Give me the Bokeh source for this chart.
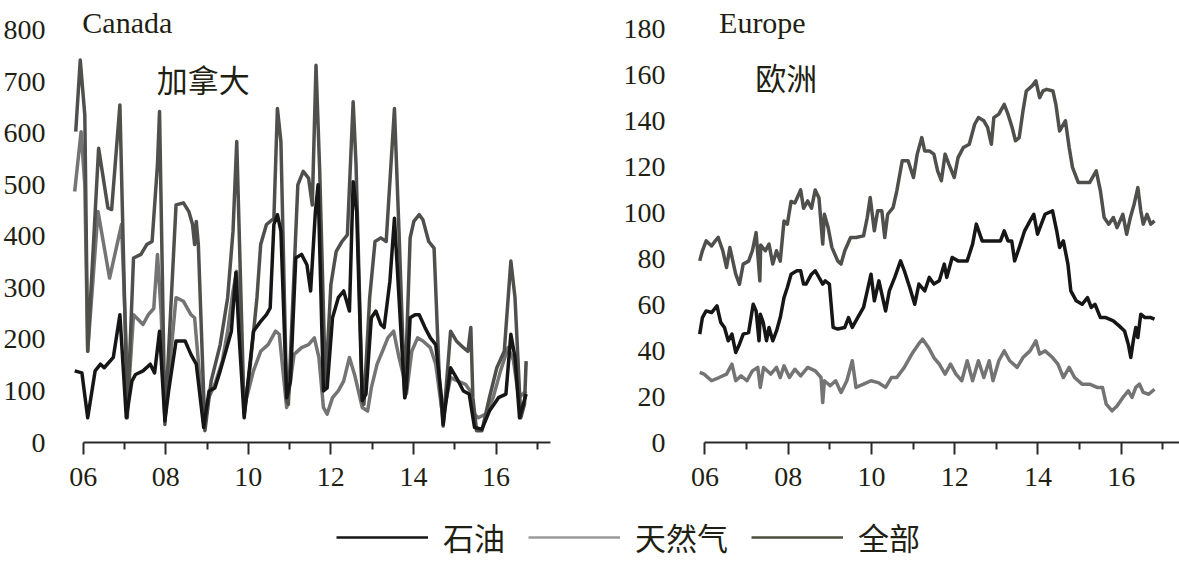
from bokeh.plotting import figure
from bokeh.layouts import column, row
from bokeh.models import FixedTicker, Label, Legend, LegendItem, Range1d
from bokeh.embed import file_html
from bokeh.resources import INLINE

# ---------------- data ----------------
year_major = [2006, 2008, 2010, 2012, 2014, 2016]
year_minor = [2007, 2009, 2011, 2013, 2015, 2017]
year_labels = ["06", "08", "10", "12", "14", "16"]

series_names = ["石油", "天然气", "全部"]

ca_ticks = [0, 100, 200, 300, 400, 500, 600, 700, 800]
eu_ticks = [0, 20, 40, 60, 80, 100, 120, 140, 160, 180]

# Canada
ca_total_x = [2005.82, 2005.93, 2006.04, 2006.11, 2006.375, 2006.60, 2006.69, 2006.89, 2007.07, 2007.22,
              2007.40, 2007.54, 2007.67, 2007.80, 2007.85, 2007.98, 2008.25, 2008.43, 2008.56, 2008.65,
              2008.70, 2008.74, 2008.79, 2008.95, 2009.10, 2009.32, 2009.50, 2009.63, 2009.72, 2009.90,
              2010.05, 2010.21, 2010.30, 2010.44, 2010.62, 2010.705, 2010.79, 2010.93, 2010.97, 2011.11,
              2011.20, 2011.33, 2011.46, 2011.55, 2011.64, 2011.73, 2011.87, 2012.00, 2012.13, 2012.27,
              2012.40, 2012.54, 2012.61, 2012.76, 2012.80, 2012.94, 2013.07, 2013.21, 2013.34, 2013.54,
              2013.65, 2013.79, 2013.92, 2014.01, 2014.14, 2014.23, 2014.37, 2014.50, 2014.63, 2014.72,
              2014.90, 2015.04, 2015.21, 2015.32, 2015.39, 2015.44, 2015.53, 2015.66, 2015.84, 2016.02,
              2016.20, 2016.36, 2016.46, 2016.60, 2016.69, 2016.73]
ca_total_y = [603, 742, 635, 177, 571, 455, 452, 655, 48, 358,
              365, 384, 390, 539, 642, 35, 461, 465, 448, 423,
              384, 429, 384, 23, 119, 190, 281, 410, 584, 55,
              152, 281, 384, 423, 435, 648, 584, 81, 74, 332,
              500, 526, 513, 461, 732, 526, 106, 306, 371, 390,
              403, 661, 539, 87, 74, 281, 390, 397, 390, 648,
              410, 87, 397, 429, 442, 432, 390, 377, 119, 32,
              216, 197, 184, 177, 223, 87, 23, 23, 87, 145,
              177, 352, 281, 48, 74, 158]

ca_oil_x = [2005.795, 2005.97, 2006.11, 2006.29, 2006.42, 2006.51, 2006.73, 2006.89, 2007.045, 2007.18,
            2007.27, 2007.45, 2007.625, 2007.73, 2007.85, 2007.98, 2008.07, 2008.25, 2008.47, 2008.61,
            2008.74, 2008.92, 2009.05, 2009.19, 2009.32, 2009.455, 2009.59, 2009.70, 2009.77, 2009.90,
            2010.125, 2010.30, 2010.44, 2010.53, 2010.62, 2010.705, 2010.79, 2010.93, 2011.02, 2011.15,
            2011.29, 2011.42, 2011.51, 2011.625, 2011.69, 2011.82, 2011.91, 2012.04, 2012.18, 2012.31,
            2012.45, 2012.54, 2012.625, 2012.76, 2012.85, 2012.98, 2013.09, 2013.21, 2013.29, 2013.43,
            2013.54, 2013.65, 2013.79, 2013.83, 2013.92, 2014.04, 2014.14, 2014.28, 2014.41, 2014.54,
            2014.68, 2014.72, 2014.77, 2014.90, 2015.04, 2015.21, 2015.35, 2015.48, 2015.66, 2015.84,
            2016.06, 2016.24, 2016.36, 2016.46, 2016.57, 2016.73]
ca_oil_y = [139, 135, 48, 139, 152, 145, 165, 248, 48, 119,
            132, 139, 152, 135, 216, 42, 100, 197, 197, 171,
            152, 29, 100, 106, 139, 177, 216, 330, 216, 48,
            216, 235, 248, 261, 423, 442, 410, 87, 119, 358,
            365, 345, 294, 448, 500, 100, 106, 242, 281, 294,
            255, 506, 448, 81, 94, 242, 255, 229, 223, 313,
            435, 281, 87, 106, 242, 248, 248, 223, 203, 190,
            87, 35, 68, 145, 126, 100, 94, 29, 26, 61,
            87, 94, 210, 165, 48, 94]

ca_gas_x = [2005.795, 2005.95, 2006.04, 2006.11, 2006.36, 2006.64, 2006.93, 2007.09, 2007.22, 2007.45,
            2007.58, 2007.71, 2007.80, 2007.89, 2007.98, 2008.25, 2008.43, 2008.61, 2008.70, 2008.92,
            2009.01, 2009.19, 2009.37, 2009.50, 2009.63, 2009.72, 2009.81, 2009.90, 2010.125, 2010.30,
            2010.48, 2010.66, 2010.75, 2010.93, 2011.11, 2011.29, 2011.46, 2011.60, 2011.71, 2011.82,
            2011.91, 2012.04, 2012.18, 2012.31, 2012.45, 2012.58, 2012.76, 2012.89, 2012.98, 2013.12,
            2013.25, 2013.38, 2013.52, 2013.65, 2013.79, 2013.83, 2013.96, 2014.10, 2014.23, 2014.41,
            2014.54, 2014.68, 2014.77, 2014.90, 2015.08, 2015.26, 2015.375, 2015.48, 2015.57, 2015.75,
            2015.93, 2016.11, 2016.29, 2016.42, 2016.55, 2016.73]
ca_gas_y = [487, 603, 500, 177, 448, 319, 423, 87, 248, 229,
            248, 260, 365, 250, 48, 281, 274, 248, 242, 35,
            81, 113, 158, 216, 294, 332, 216, 68, 139, 177,
            190, 216, 210, 68, 171, 184, 190, 203, 165, 68,
            55, 87, 100, 119, 165, 130, 68, 61, 106, 152,
            177, 203, 216, 165, 119, 94, 177, 203, 197, 184,
            152, 68, 74, 126, 119, 113, 100, 55, 48, 55,
            87, 139, 184, 160, 87, 100]

# Europe
eu_total_x = [2005.875, 2005.94, 2006.03, 2006.16, 2006.25, 2006.32, 2006.43, 2006.52, 2006.60, 2006.74,
              2006.83, 2006.92, 2007.05, 2007.14, 2007.23, 2007.32, 2007.34, 2007.45, 2007.54, 2007.63,
              2007.72, 2007.81, 2007.90, 2007.98, 2008.07, 2008.16, 2008.30, 2008.37, 2008.47, 2008.56,
              2008.65, 2008.74, 2008.83, 2008.87, 2008.96, 2009.05, 2009.19, 2009.27, 2009.36, 2009.50,
              2009.63, 2009.81, 2009.90, 2009.97, 2010.03, 2010.07, 2010.15, 2010.25, 2010.32, 2010.39,
              2010.52, 2010.61, 2010.74, 2010.88, 2011.01, 2011.10, 2011.21, 2011.28, 2011.39, 2011.50,
              2011.59, 2011.68, 2011.77, 2011.86, 2011.99, 2012.08, 2012.21, 2012.35, 2012.48, 2012.57,
              2012.70, 2012.79, 2012.88, 2012.94, 2013.06, 2013.19, 2013.28, 2013.38, 2013.46, 2013.55,
              2013.64, 2013.72, 2013.86, 2013.95, 2014.04, 2014.12, 2014.21, 2014.36, 2014.43, 2014.52,
              2014.66, 2014.75, 2014.83, 2014.97, 2015.24, 2015.40, 2015.50, 2015.59, 2015.70, 2015.81,
              2015.90, 2016.04, 2016.13, 2016.22, 2016.31, 2016.40, 2016.47, 2016.53, 2016.62, 2016.71,
              2016.80]
eu_total_y = [79.1, 83.5, 87.8, 85.6, 87.8, 89.3, 83.5, 76.2, 84.9, 73.3,
              68.9, 77.7, 79.0, 83.5, 91.4, 70.4, 86.0, 83.5, 86.4, 77.7,
              83.5, 79.0, 96.5, 95.1, 105.0, 104.3, 110.0, 102.0, 105.2, 102.0,
              110.0, 106.5, 86.4, 99.4, 93.6, 85.0, 79.1, 77.7, 83.5, 89.3,
              89.3, 90.0, 98.0, 106.7, 98.0, 92.2, 100.9, 100.9, 89.3, 99.4,
              102.3, 109.6, 122.7, 122.7, 115.4, 125.6, 132.8, 127.0, 127.0, 125.6,
              118.3, 114.0, 125.6, 121.2, 115.4, 124.1, 128.5, 129.9, 138.6, 141.5,
              140.1, 137.2, 129.9, 141.5, 143.0, 147.3, 143.0, 137.2, 131.4, 132.8,
              144.4, 153.1, 155.3, 157.5, 150.2, 153.1, 153.8, 153.1, 147.3, 135.7,
              140.1, 128.5, 119.8, 113.2, 113.2, 118.3, 109.6, 98.0, 95.1, 98.0,
              93.6, 99.4, 90.7, 98.0, 103.8, 111.0, 100.9, 95.1, 99.4, 95.1,
              96.5]

eu_oil_x = [2005.875, 2005.94, 2006.03, 2006.16, 2006.29, 2006.38, 2006.47, 2006.56, 2006.65, 2006.74,
            2006.83, 2006.92, 2007.05, 2007.16, 2007.23, 2007.30, 2007.33, 2007.40, 2007.48, 2007.54,
            2007.63, 2007.72, 2007.81, 2007.90, 2007.98, 2008.07, 2008.21, 2008.30, 2008.37, 2008.43,
            2008.56, 2008.65, 2008.74, 2008.83, 2008.89, 2008.99, 2009.08, 2009.19, 2009.36, 2009.45,
            2009.54, 2009.67, 2009.81, 2009.90, 2009.99, 2010.07, 2010.18, 2010.25, 2010.34, 2010.43,
            2010.56, 2010.70, 2010.79, 2010.92, 2011.04, 2011.14, 2011.28, 2011.39, 2011.50, 2011.63,
            2011.75, 2011.81, 2011.94, 2012.08, 2012.30, 2012.43, 2012.52, 2012.66, 2012.83, 2012.97,
            2013.10, 2013.19, 2013.28, 2013.37, 2013.44, 2013.55, 2013.68, 2013.81, 2013.90, 2013.99,
            2014.08, 2014.17, 2014.35, 2014.45, 2014.52, 2014.61, 2014.72, 2014.79, 2014.92, 2015.06,
            2015.19, 2015.28, 2015.37, 2015.50, 2015.63, 2015.81, 2015.95, 2016.08, 2016.17, 2016.23,
            2016.29, 2016.35, 2016.40, 2016.47, 2016.57, 2016.71, 2016.80]
eu_oil_y = [47.2, 54.4, 57.3, 56.6, 59.5, 52.3, 50.1, 44.3, 47.2, 39.2,
            42.8, 47.2, 47.9, 60.2, 57.3, 44.3, 55.9, 52.3, 44.3, 50.1,
            44.3, 48.6, 54.4, 63.1, 67.5, 73.3, 74.8, 74.8, 69.0, 69.0,
            73.3, 74.8, 71.9, 69.0, 70.4, 69.0, 50.1, 49.4, 50.1, 54.4,
            50.1, 54.4, 58.8, 66.0, 73.3, 61.7, 70.4, 64.6, 57.3, 66.0,
            71.9, 79.1, 74.8, 67.5, 60.2, 69.0, 66.0, 71.9, 69.0, 70.4,
            77.7, 71.9, 80.6, 79.1, 79.1, 86.4, 95.1, 87.8, 87.8, 87.8,
            87.8, 92.2, 87.8, 87.8, 79.1, 84.9, 92.2, 96.5, 99.4, 90.7,
            95.1, 99.4, 100.9, 92.2, 84.9, 87.8, 77.7, 66.0, 61.7, 60.2,
            63.1, 58.8, 60.2, 54.4, 54.4, 53.0, 50.8, 48.6, 42.8, 37.0,
            44.3, 50.1, 45.7, 55.9, 54.4, 54.4, 53.7]

eu_gas_x = [2005.875, 2005.98, 2006.16, 2006.34, 2006.52, 2006.65, 2006.74, 2006.87, 2007.01, 2007.14,
            2007.27, 2007.33, 2007.41, 2007.58, 2007.72, 2007.81, 2007.90, 2008.03, 2008.16, 2008.30,
            2008.47, 2008.65, 2008.79, 2008.83, 2008.87, 2009.01, 2009.14, 2009.27, 2009.41, 2009.54,
            2009.63, 2009.81, 2009.99, 2010.16, 2010.34, 2010.48, 2010.61, 2010.79, 2010.97, 2011.13,
            2011.23, 2011.37, 2011.50, 2011.63, 2011.77, 2011.90, 2012.03, 2012.17, 2012.30, 2012.43,
            2012.57, 2012.70, 2012.83, 2012.92, 2013.06, 2013.19, 2013.32, 2013.50, 2013.64, 2013.81,
            2013.95, 2014.04, 2014.17, 2014.35, 2014.48, 2014.61, 2014.75, 2014.88, 2015.06, 2015.24,
            2015.42, 2015.55, 2015.64, 2015.78, 2015.90, 2016.04, 2016.17, 2016.26, 2016.35, 2016.44,
            2016.53, 2016.66, 2016.80]
eu_gas_y = [30.5, 29.8, 26.9, 28.3, 29.8, 34.1, 26.9, 29.0, 26.9, 31.2,
            32.7, 24.0, 32.7, 29.8, 32.7, 28.3, 33.4, 28.3, 31.9, 29.0,
            32.7, 31.2, 28.3, 17.4, 26.9, 24.7, 26.9, 21.8, 26.9, 35.6,
            24.0, 25.4, 26.9, 26.1, 24.0, 28.3, 28.3, 32.7, 38.5, 42.8,
            45.0, 41.4, 37.0, 34.1, 29.8, 34.1, 29.8, 26.9, 35.6, 26.9,
            35.6, 28.3, 35.6, 26.9, 35.6, 39.9, 35.6, 32.7, 37.0, 39.9,
            44.3, 38.5, 39.9, 37.0, 34.1, 28.3, 32.7, 28.3, 25.4, 25.4,
            24.0, 24.0, 16.7, 13.8, 15.9, 19.6, 22.5, 19.6, 24.0, 25.4,
            21.8, 21.0, 23.2]

# ---------------- style ----------------
OIL_C = "#161616"
GAS_C = "#747474"
TOT_C = "#4f4f4c"
LEG_COLORS = ["#161616", "#9a9a9a", "#4d4d40"]
TXT_C = "#1f1f14"
SERIF = "Liberation Serif"
CJK = "Noto Sans CJK SC"


def make_panel(width, border_left, border_right, x_start, x_end, y_end, yticks,
               total, oil, gas, title, cn_title, title_pos, cn_pos):
    p = figure(width=width, height=500, output_backend="svg", toolbar_location=None,
               x_range=Range1d(x_start, x_end), y_range=Range1d(0, y_end),
               min_border_left=border_left, min_border_right=border_right,
               min_border_top=0, min_border_bottom=58)
    p.outline_line_color = None
    p.grid.visible = False
    p.background_fill_color = "white"

    for (xs, ys), c in ((gas, GAS_C), (total, TOT_C), (oil, OIL_C)):
        p.line(xs, ys, line_color=c, line_width=3.5, line_join="round")

    xa = p.xaxis[0]
    xa.ticker = FixedTicker(ticks=year_major, minor_ticks=year_minor)
    xa.major_label_overrides = {y: l for y, l in zip(year_major, year_labels)}
    xa.bounds = (2006, x_end)
    xa.axis_line_color = "#2a2a2a"
    xa.axis_line_width = 2
    xa.major_tick_line_color = "#2a2a2a"
    xa.major_tick_line_width = 2
    xa.major_tick_in = 0
    xa.major_tick_out = 12
    xa.minor_tick_line_color = "#2a2a2a"
    xa.minor_tick_line_width = 2
    xa.minor_tick_in = 0
    xa.minor_tick_out = 7
    xa.major_label_standoff = 13
    xa.major_label_text_font = SERIF
    xa.major_label_text_font_size = "28px"
    xa.major_label_text_color = TXT_C

    ya = p.yaxis[0]
    ya.ticker = FixedTicker(ticks=yticks)
    ya.axis_line_color = None
    ya.major_tick_line_color = None
    ya.minor_tick_line_color = None
    ya.major_label_standoff = 17
    ya.major_label_text_font = SERIF
    ya.major_label_text_font_size = "28px"
    ya.major_label_text_color = TXT_C

    p.add_layout(Label(x=title_pos[0], y=title_pos[1], text=title, text_font=SERIF,
                       text_font_size="30px", text_color=TXT_C, text_baseline="alphabetic"))
    p.add_layout(Label(x=cn_pos[0], y=cn_pos[1], text=cn_title, text_font=CJK,
                       text_font_size="31px", text_color=TXT_C, text_baseline="middle"))
    return p


p1 = make_panel(590, 66, 40, 2005.645, 2017.32, 857.6, ca_ticks,
                (ca_total_x, ca_total_y), (ca_oil_x, ca_oil_y), (ca_gas_x, ca_gas_y),
                "Canada", "加拿大", (2005.98, 815), (2007.78, 707))
p2 = make_panel(589, 98, 0, 2005.606, 2017.40, 192.5, eu_ticks,
                (eu_total_x, eu_total_y), (eu_oil_x, eu_oil_y), (eu_gas_x, eu_gas_y),
                "Europe", "欧洲", (2006.34, 183.0), (2007.21, 159.6))

# legend strip: the Europe series drawn outside this strip's visible range,
# so only their legend entries show
p3 = figure(width=1179, height=62, output_backend="svg", toolbar_location=None,
            x_range=Range1d(0, 1), y_range=Range1d(0, 1),
            min_border_left=0, min_border_right=0, min_border_top=0, min_border_bottom=0)
p3.axis.visible = False
p3.grid.visible = False
p3.outline_line_color = None
items = []
for name, c, (xs, ys) in zip(series_names, LEG_COLORS,
                             [(eu_oil_x, eu_oil_y), (eu_gas_x, eu_gas_y), (eu_total_x, eu_total_y)]):
    r = p3.line(xs, ys, line_color=c, line_width=2.5)
    items.append(LegendItem(label=name, renderers=[r]))
legend = Legend(items=items, orientation="horizontal", location=(336, 3),
                glyph_width=92, glyph_height=20, label_standoff=15, spacing=23,
                padding=0, margin=0, border_line_color=None, background_fill_alpha=0,
                label_text_font=CJK, label_text_font_size="31px", label_text_color=TXT_C)
p3.add_layout(legend, "center")

layout = column(row(p1, p2, spacing=0), p3, spacing=0)

open("out.html", "w").write(file_html(layout, INLINE))
